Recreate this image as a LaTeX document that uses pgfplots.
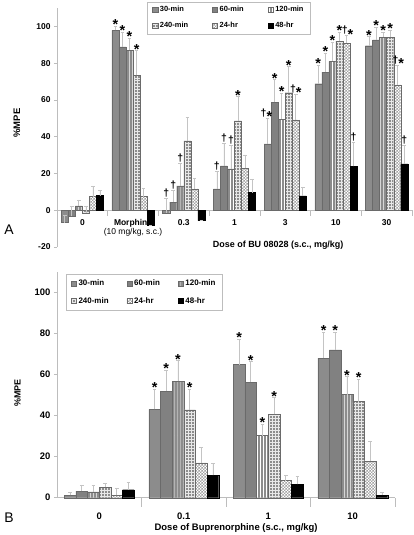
\documentclass[border=0pt]{standalone}
\usepackage{fontspec}
\setmainfont{Liberation Sans}
\usepackage{pgfplots}
\usepackage{pgfplotstable}
\pgfplotsset{compat=1.18}
\usetikzlibrary{patterns}

\definecolor{barg}{HTML}{8C8C8C}
\definecolor{bard}{HTML}{6A6A6A}
\definecolor{errc}{HTML}{C4C4C4}
\definecolor{axc}{HTML}{BDBDBD}

\pgfdeclarepatternformonly{finecheck}{\pgfqpoint{0pt}{0pt}}{\pgfqpoint{3pt}{3pt}}{\pgfqpoint{3pt}{3pt}}{%
  \pgfpathrectangle{\pgfqpoint{0pt}{0pt}}{\pgfqpoint{1.5pt}{1.5pt}}%
  \pgfpathrectangle{\pgfqpoint{1.5pt}{1.5pt}}{\pgfqpoint{1.5pt}{1.5pt}}%
  \pgfusepath{fill}}

\pgfplotstableread{
x v30 e30 v60 e60 v120 e120 v240 e240 v24 e24 v48 e48
0 -6.7 4.0 -3.4 5.4 2.4 3.2 -1.6 3.6 7.4 5.8 8.0 3.0
1 97.8 2.2 88.9 8.0 86.9 6.7 73.3 13.4 7.4 4.6 -8.0 0
2 -1.5 8.0 4.4 6.6 13.2 12.4 37.7 12.6 11.6 5.8 -5.6 0
3 11.6 9.3 24.1 12.4 22.5 12.7 48.6 13.3 22.7 7.4 9.6 7.4
4 36.1 13.9 58.8 12.2 49.5 14.2 63.9 14.3 49.2 14.0 7.8 4.5
5 68.8 10.0 75.1 10.4 80.9 10.6 92.0 5.0 90.9 4.1 23.8 13.0
6 89.5 5.0 92.7 6.9 94.2 2.8 94.0 4.0 68.2 10.7 25.2 10.0
}\dataA

\pgfplotstableread{
x v30 e30 v60 e60 v120 e120 v240 e240 v24 e24 v48 e48
0 1.1 1.7 3.2 3.0 2.8 3.4 5.2 1.8 1.1 3.4 3.9 3.4
1 43.0 9.8 51.9 10.3 56.8 9.9 42.7 10.1 17.0 7.4 10.9 5.8
2 64.8 12.3 56.2 10.0 30.2 5.7 40.6 8.1 8.3 2.4 6.5 3.7
3 67.9 12.6 71.9 8.8 50.2 8.7 46.8 11.0 18.0 9.6 1.3 1.5
}\dataB

\pgfplotsset{
  s30/.style={fill=barg, draw=bard, line width=0.35pt},
  s60/.style={fill=barg!92!black, draw=bard, line width=0.35pt},
  s120/.style={fill=barg, draw=bard, line width=0.35pt, postaction={pattern=vertical lines, pattern color=white}},
  s240/.style={fill=barg, draw=bard, line width=0.35pt, postaction={pattern=grid, pattern color=white!80!barg}},
  s24/.style={fill=white, draw=bard, line width=0.35pt, postaction={pattern=finecheck, pattern color=barg!80}},
  s48/.style={fill=black, draw=black, line width=0.35pt},
  eb/.style={error bars/.cd, y dir=plus, y explicit,
     error bar style={errc, line width=0.7pt, fill=none, postaction={}},
     error mark options={errc, rotate=90, mark size=1.8bp, line width=0.7pt}},
  common/.style={
    scale only axis, clip=false,
    ybar=0pt,
    axis y line*=left,
    y axis line style={axc, line width=0.6pt},
    x axis line style={axc, line width=0.6pt},
    ytick style={axc, line width=0.6pt},
    tick align=outside,
    major tick length=3bp,
    major x tick style={draw=none},
    /pgf/number format/assume math mode=true,
    legend columns=3,
    legend cell align=left,
    legend image code/.code={\path[##1] (0bp,-2.6bp) rectangle (5.2bp,2.6bp);},
  },
}

\newcommand{\st}{\raisebox{-5.6bp}{\fontsize{14.5}{14.5}\selectfont *}}
\newcommand{\dg}{{\fontsize{10.5}{10.5}\selectfont †}}
\newcommand{\an}[3]{\node[anchor=base, inner sep=0pt, font=\bfseries, yshift=2bp] at (axis cs:#1,#2) {#3};}

\begin{document}
\begin{tikzpicture}
\path[use as bounding box] (0,0) rectangle (414bp,535bp);

% ---------------- Panel A ----------------
\begin{axis}[common,
  at={(57bp,288bp)}, anchor=south west,
  width=355bp, height=239bp,
  xmin=-0.5, xmax=6.5, ymin=-20, ymax=110,
  bar width=0.139,
  axis x line*=middle,
  ytick={-20,0,20,40,60,80,100},
  yticklabel style={font=\bfseries\fontsize{8.5}{9}\selectfont},
  xtick={0,1,2,3,4,5,6},
  xticklabels={0,{Morphine\\{\mdseries\fontsize{8.5}{8}\selectfont(10 mg/kg, s.c.)}},0.3,1,3,10,30},
  xticklabel style={font=\bfseries\fontsize{8.5}{8.5}\selectfont, align=center, yshift=-3bp},
  extra x ticks={0.5,1.5,2.5,3.5,4.5,5.5,6.5},
  extra x tick labels={},
  extra x tick style={major tick length=6bp, major x tick style={draw=axc, line width=0.6pt}},
  xlabel={Dose of BU 08028 (s.c., mg/kg)},
  xlabel style={at={(axis description cs:0.623,0.008)}, anchor=center, font=\bfseries\fontsize{9}{10}\selectfont},
  ylabel={\%MPE},
  ylabel style={at={(axis description cs:-0.113,0.519)}, anchor=center, font=\bfseries\fontsize{9.5}{10}\selectfont},
  legend style={at={(axis description cs:0.254,1.026)}, anchor=north west, draw=axc,
    font=\bfseries\fontsize{7.5}{8}\selectfont, inner xsep=5bp, inner ysep=2.5bp,
    /tikz/every even column/.append style={column sep=22bp}, row sep=5bp},
]
\addplot[s30, eb] table[x=x, y=v30, y error=e30] {\dataA};
\addplot[s60, eb] table[x=x, y=v60, y error=e60] {\dataA};
\addplot[s120, eb] table[x=x, y=v120, y error=e120] {\dataA};
\addplot[s240, eb] table[x=x, y=v240, y error=e240] {\dataA};
\addplot[s24, eb] table[x=x, y=v24, y error=e24] {\dataA};
\addplot[s48, eb] table[x=x, y=v48, y error=e48] {\dataA};
\legend{30-min,60-min,120-min,240-min,24-hr,48-hr}
% annotations
\an{0.6525}{100}{\st}\an{0.7915}{96.9}{\st}\an{0.9305}{93.6}{\st}\an{1.0695}{86.7}{\st}
\an{1.6525}{6.5}{\dg}\an{1.7915}{11.0}{\dg}\an{1.9305}{25.6}{\dg}
\an{2.6525}{20.9}{\dg}\an{2.7915}{36.5}{\dg}\an{2.9305}{35.2}{\dg}\an{3.0695}{61.9}{\st}
\an{3.63}{50.0}{\dg\st}\an{3.7915}{71.0}{\st}\an{3.9305}{63.7}{\st}\an{4.0695}{78.2}{\st}\an{4.2085}{63.2}{\dg\st}
\an{4.6525}{78.8}{\st}\an{4.7915}{85.5}{\st}\an{4.9305}{91.5}{\st}\an{5.0695}{97.0}{\st}\an{5.23}{95.0}{\dg\st}\an{5.3475}{36.8}{\dg}
\an{5.6525}{94.5}{\st}\an{5.7915}{99.6}{\st}\an{5.9305}{97.0}{\st}\an{6.0695}{98.0}{\st}\an{6.23}{78.9}{\dg\st}\an{6.3475}{35.2}{\dg}
\end{axis}
\node[font=\fontsize{14}{14}\selectfont] at (9bp,305bp) {A};

% ---------------- Panel B ----------------
\begin{axis}[common,
  at={(57bp,37.3bp)}, anchor=south west,
  width=338bp, height=226bp,
  xmin=-0.5, xmax=3.5, ymin=0, ymax=110,
  bar width=0.138,
  axis x line*=bottom,
  ytick={0,20,40,60,80,100},
  yticklabel style={font=\bfseries\fontsize{9.5}{10}\selectfont},
  xtick={0,1,2,3},
  xticklabels={0,0.1,1,10},
  xticklabel style={font=\bfseries\fontsize{9.5}{10}\selectfont, yshift=-9bp},
  extra x ticks={0.5,1.5,2.5,3.5},
  extra x tick labels={},
  extra x tick style={major tick length=9bp, major x tick style={draw=axc, line width=0.6pt}},
  xlabel={Dose of Buprenorphine (s.c., mg/kg)},
  xlabel style={at={(axis description cs:0.53,-0.134)}, anchor=center, font=\bfseries\fontsize{9.5}{10}\selectfont},
  ylabel={\%MPE},
  ylabel style={at={(axis description cs:-0.117,0.463)}, anchor=center, font=\bfseries\fontsize{9}{10}\selectfont},
  legend style={at={(axis description cs:0.026,0.99)}, anchor=north west, draw=axc,
    font=\bfseries\fontsize{8}{8}\selectfont, inner xsep=5bp, inner ysep=4bp,
    /tikz/every even column/.append style={column sep=16bp}, row sep=6bp},
]
\addplot[s30, eb] table[x=x, y=v30, y error=e30] {\dataB};
\addplot[s60, eb] table[x=x, y=v60, y error=e60] {\dataB};
\addplot[s120, eb] table[x=x, y=v120, y error=e120] {\dataB};
\addplot[s240, eb] table[x=x, y=v240, y error=e240] {\dataB};
\addplot[s24, eb] table[x=x, y=v24, y error=e24] {\dataB};
\addplot[s48, eb] table[x=x, y=v48, y error=e48] {\dataB};
\legend{30-min,60-min,120-min,240-min,24-hr,48-hr}
\an{0.655}{52.8}{\st}\an{0.793}{62.2}{\st}\an{0.931}{66.7}{\st}\an{1.069}{52.8}{\st}
\an{1.655}{77.1}{\st}\an{1.793}{66.2}{\st}\an{1.931}{35.9}{\st}\an{2.069}{48.7}{\st}
\an{2.655}{80.5}{\st}\an{2.793}{80.7}{\st}\an{2.931}{58.9}{\st}\an{3.069}{57.8}{\st}
\end{axis}
\node[font=\fontsize{14}{14}\selectfont] at (9bp,17bp) {B};
\end{tikzpicture}
\end{document}
